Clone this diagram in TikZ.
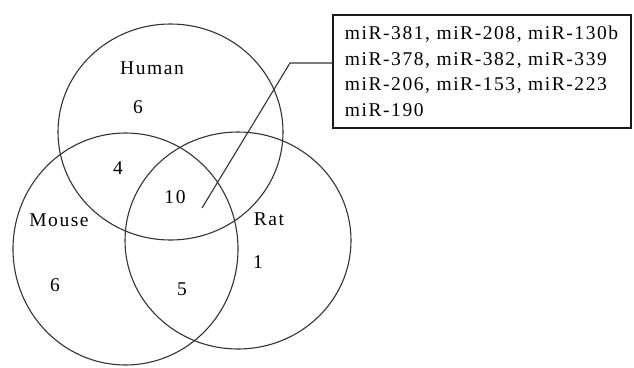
\documentclass[tikz,border=0pt]{standalone}
\usepackage{fontspec}
\setmainfont{Liberation Serif}[LetterSpace=8]
\usetikzlibrary{positioning}
\tikzset{
    setline/.style={draw=black!80, line width=1.1pt},
    setname/.style={font=\fontsize{19.5}{25.5}\selectfont, inner sep=0pt},
    count/.style={font=\fontsize{19.5}{25.5}\selectfont, inner sep=0pt},
    listbox/.style={draw=black!90, line width=1.8pt, fill=white, align=left,
        font=\fontsize{19.5}{25.5}\selectfont, inner xsep=12pt,
        text width=274pt, minimum height=113pt, anchor=north west}
}
\newcommand{\setellipse}[4] {
	\draw[setline] (#1,#2) ellipse [x radius=#3, y radius=#4];
}
\newcommand{\countlabel}[4] {
	\node[count] (#1) at (#2,#3) {#4};
}

\begin{document}
\begin{tikzpicture}[x=1pt,y=-1pt]
		\useasboundingbox (0,0) rectangle (634,367);

		% The three sets
		\setellipse{170.5}{132}{112.5}{108}
		\setellipse{125.5}{249}{112.5}{116}
		\setellipse{238}{240.5}{113}{108.5}

		% Set names
		\node[setname] (human) at (152,68) {Human};
		\node[setname] (mouse) at (59,220) {Mouse};
		\node[setname] (rat) at (269,219) {Rat};

		% Counts
		\countlabel{humanonly}{138}{107}{6}
		\countlabel{humanmouse}{118}{168}{4}
		\countlabel{common}{175}{197}{10}
		\countlabel{mouseonly}{55}{285}{6}
		\countlabel{mouserat}{182}{289}{5}
		\countlabel{ratonly}{258}{262}{1}

		% miRNAs shared by all three
		\node[listbox] (mirlist) at (332,14) {miR-381, miR-208, miR-130b\\
			miR-378, miR-382, miR-339\\
			miR-206, miR-153, miR-223\\
			miR-190};
		\coordinate (tip) at (202,208);
		\coordinate (elbow) at (290,63);
		\draw[setline] (tip) -- (elbow) -- (mirlist.west |- elbow);

	\end{tikzpicture}
\end{document}
